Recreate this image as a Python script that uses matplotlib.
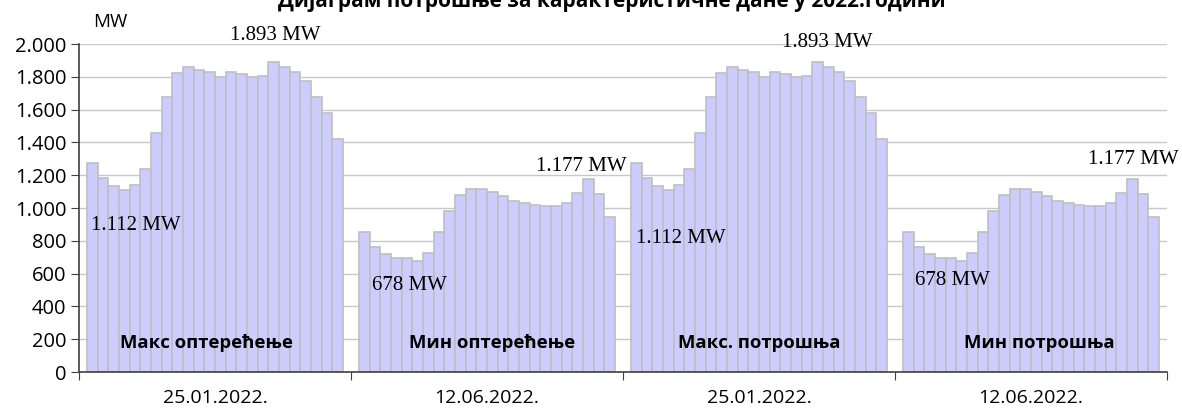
import numpy as np
import matplotlib.pyplot as plt

plt.rcParams['font.family'] = ['Open Sans', 'DejaVu Sans']

# hourly values (MW) for the four characteristic days
max_load = [1274, 1183, 1134, 1112, 1140, 1238, 1457, 1677, 1823, 1860, 1841, 1829,
            1799, 1829, 1817, 1799, 1805, 1893, 1860, 1829, 1774, 1677, 1579, 1420]
min_load = [854, 762, 720, 697, 695, 678, 725, 852, 982, 1081, 1114, 1114,
            1100, 1076, 1045, 1033, 1018, 1012, 1012, 1028, 1094, 1177, 1085, 947]
max_cons = [1274, 1183, 1134, 1112, 1140, 1238, 1457, 1677, 1823, 1860, 1841, 1829,
            1799, 1829, 1817, 1799, 1805, 1893, 1860, 1829, 1774, 1677, 1579, 1420]
min_cons = [854, 762, 720, 697, 695, 678, 725, 852, 982, 1081, 1114, 1114,
            1100, 1076, 1045, 1033, 1018, 1012, 1012, 1028, 1094, 1177, 1085, 947]

dates = ['25.01.2022.', '12.06.2022.', '25.01.2022.', '12.06.2022.']
group_names = ['Макс оптерећење', 'Мин оптерећење', 'Макс. потрошња', 'Мин потрошња']
min_labels = ['1.112 MW', '678 MW', '1.112 MW', '678 MW']
max_labels = ['1.893 MW', '1.177 MW', '1.893 MW', '1.177 MW']

groups = [max_load, min_load, max_cons, min_cons]

fig = plt.figure(figsize=(11.82, 4.08), dpi=100)
ax = fig.add_axes([79 / 1182, 36 / 408, (1167 - 79) / 1182, 328 / 408])

span = 256 / 272
pad = (1 - span) / 2
bw = span / 24

# offsets in points for the annotations (min label, max label)
min_off = [(8, -26), (-6, -18), (9, -35), (-7, -14)]
max_off = [(1, 19), (-5, 9), (7, 14), (1, 14)]
name_dx = [-0.03, 0.02, 0.0, 0.03]

for g, vals in enumerate(groups):
    vals = np.array(vals)
    x = g + pad + (np.arange(24) + 0.5) * bw
    ax.bar(x, vals, width=bw, color='#ccccff', edgecolor='#bfbfbf', linewidth=1.2, zorder=2)
    i_min, i_max = vals.argmin(), vals.argmax()
    ax.annotate(min_labels[g], (x[i_min], vals[i_min]), xytext=min_off[g],
                textcoords='offset points', ha='center', va='center',
                family='Liberation Serif', fontsize=15, zorder=3)
    ax.annotate(max_labels[g], (x[i_max], vals[i_max]), xytext=max_off[g],
                textcoords='offset points', ha='center', va='center',
                family='Liberation Serif', fontsize=15, zorder=3, annotation_clip=False)
    ax.text(g + 0.5 + name_dx[g], 177, group_names[g], ha='center', va='center',
            fontsize=13.3, fontweight='bold', zorder=3)

ax.set_xlim(0, 4)
ax.set_ylim(0, 2000)
ax.set_yticks(np.arange(0, 2001, 200))
ax.set_yticklabels([f'{v:,}'.replace(',', '.') for v in range(0, 2001, 200)])
ax.set_xticks(np.arange(5))
ax.set_xticklabels([])
ax.set_xticks(np.arange(4) + 0.5, minor=True)
ax.set_xticklabels(dates, minor=True)
ax.tick_params(axis='x', which='major', length=6, color='#404040')
ax.tick_params(axis='x', which='minor', length=0, pad=12, labelsize=14)
ax.tick_params(axis='y', length=6, color='#404040', labelsize=14.5, pad=3)
ax.yaxis.grid(True, color='#c8c8c8', linewidth=1)
ax.set_axisbelow(True)
for s in ['top', 'right']:
    ax.spines[s].set_visible(False)
for s in ['left', 'bottom']:
    ax.spines[s].set_color('#404040')
    ax.spines[s].set_linewidth(1.2)

fig.text(110 / 1182, 1 - 22 / 408, 'MW', ha='center', va='center', fontsize=13.5)
fig.text(612 / 1182, 1 - 1 / 408, 'Дијаграм потрошње за карактеристичне дане у 2022.години',
         ha='center', va='center', fontsize=15, fontweight='bold')

fig.savefig('out.png', dpi=100)
